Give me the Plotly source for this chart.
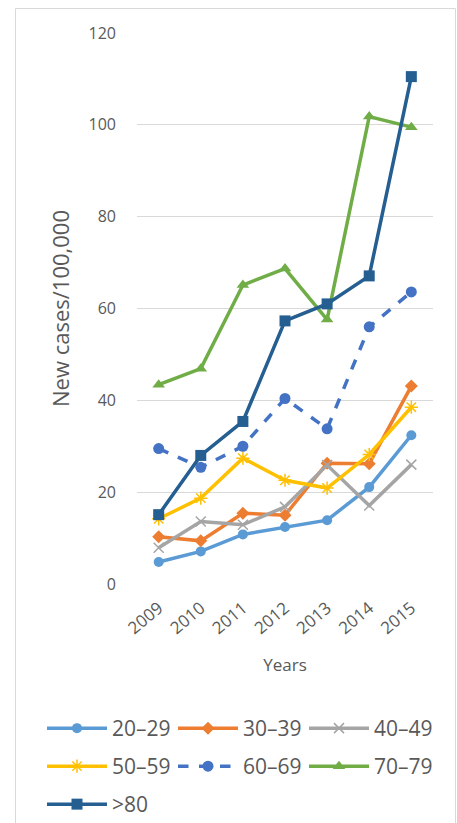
import plotly.graph_objects as go

years = ["2009", "2010", "2011", "2012", "2013", "2014", "2015"]
s_20_29 = [4.8, 7.1, 10.8, 12.4, 13.9, 21.1, 32.4]
s_30_39 = [10.3, 9.4, 15.4, 15.0, 26.3, 26.2, 43.1]
s_40_49 = [7.9, 13.6, 12.9, 16.8, 25.9, 17.1, 26.0]
s_50_59 = [14.2, 18.7, 27.4, 22.6, 20.9, 28.2, 38.5]
s_60_69 = [29.5, 25.4, 30.0, 40.4, 33.8, 56.0, 63.6]
s_70_79 = [43.4, 46.9, 65.1, 68.7, 57.6, 101.8, 99.5]
s_80 = [15.1, 28.0, 35.4, 57.3, 61.0, 67.1, 110.5]

series = [
    ("20\u201329", s_20_29, "#5B9BD5", "circle", "solid", 10, "legend"),
    ("30\u201339", s_30_39, "#ED7D31", "diamond", "solid", 10, "legend"),
    ("40\u201349", s_40_49, "#A5A5A5", "x-thin-open", "solid", 10, "legend"),
    ("50\u201359", s_50_59, "#FFC000", "asterisk-open", "solid", 11, "legend2"),
    ("60\u201369", s_60_69, "#4472C4", "circle", "dash", 11, "legend2"),
    ("70\u201379", s_70_79, "#70AD47", "triangle-up", "solid", 11, "legend2"),
    (">80", s_80, "#255E91", "square", "solid", 11, "legend3"),
]

fig = go.Figure()
for name, vals, color, sym, dash, msize, leg in series:
    mk = dict(symbol=sym, size=msize, color=color)
    if sym.endswith("open"):
        mk["line"] = dict(color=color, width=1.5)
    fig.add_trace(go.Scatter(
        x=years, y=vals, name=name, mode="lines+markers",
        line=dict(color=color, width=3.5, dash=dash),
        marker=mk, legend=leg,
    ))

W, H = 457, 823
L, R, T, B = 137, 24, 33, 239
pw, ph = W - L - R, H - T - B

def px_x(p):
    return (p - L) / pw

def px_y(p):
    return (H - B - p) / ph

def legend_row(top):
    return dict(
        orientation="h", x=px_x(42), xanchor="left", y=px_y(top), yanchor="top",
        font=dict(size=21, color="#595959"), entrywidth=56, entrywidthmode="pixels",
        itemwidth=60, bgcolor="rgba(0,0,0,0)",
    )

fig.update_layout(
    width=W, height=H,
    margin=dict(l=L, r=R, t=T, b=B, autoexpand=False),
    paper_bgcolor="white", plot_bgcolor="white",
    font=dict(family="Open Sans, sans-serif", color="#595959"),
    xaxis=dict(
        type="category", tickangle=-40, showgrid=False, showline=False,
        ticks="", tickfont=dict(size=17, color="#595959"), ticklabelstandoff=10,
        title=dict(text="Years", font=dict(size=17, color="#595959"), standoff=21),
        zeroline=False, automargin=False,
    ),
    yaxis=dict(
        range=[0, 120], dtick=20, showgrid=True, gridcolor="#D9D9D9", gridwidth=1.3,
        zeroline=False, showline=False, ticks="", automargin=False,
        tickfont=dict(size=16, color="#595959"), ticklabelstandoff=20,
        title=dict(text="New cases/100,000", font=dict(size=22, color="#595959"), standoff=12),
    ),
    legend=legend_row(708),
    legend2=legend_row(746),
    legend3=legend_row(784),
    showlegend=True,
    shapes=[dict(
        type="rect", xref="paper", yref="paper",
        x0=px_x(15.5), x1=px_x(455.5), y0=px_y(840), y1=px_y(8.5),
        line=dict(color="#D9D9D9", width=1), fillcolor="rgba(0,0,0,0)", layer="below",
    )],
)

fig.write_html("out.html")
